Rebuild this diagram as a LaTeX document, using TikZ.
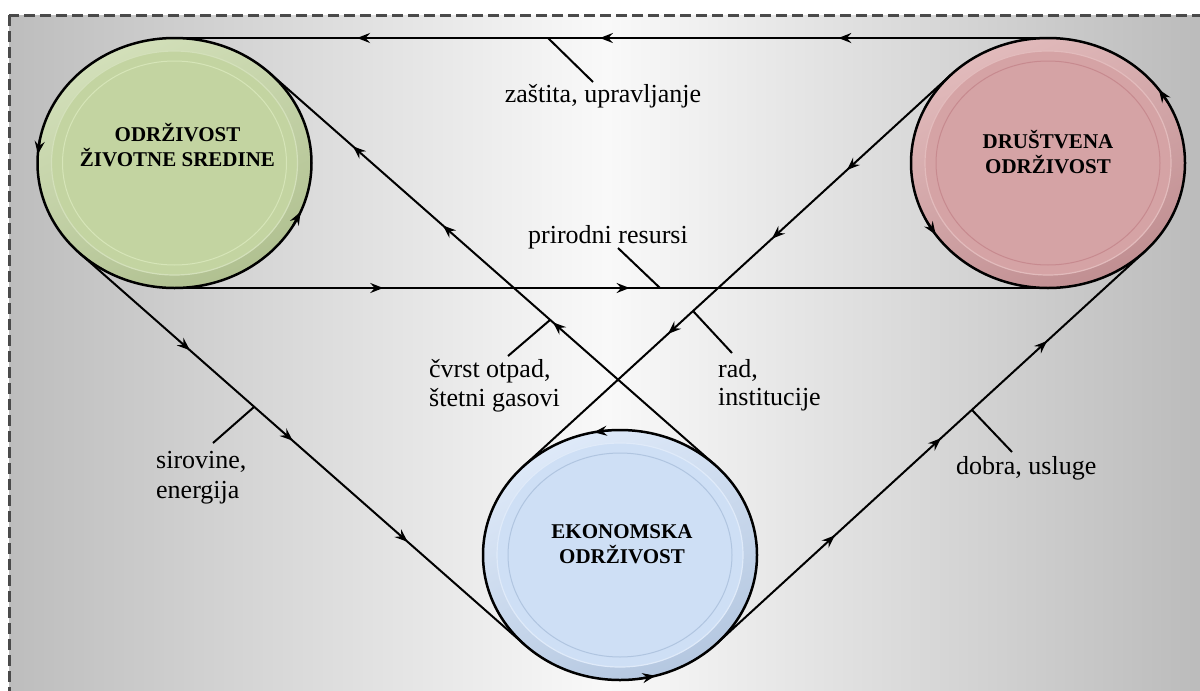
\documentclass[tikz,border=0pt]{standalone}
\usepackage{fontspec}
\setmainfont{Liberation Serif}
\usetikzlibrary{arrows.meta,decorations.markings,shapes.geometric,calc}

\definecolor{framegray}{HTML}{4A4A4A}
\definecolor{bgedge}{HTML}{BDBDBD}
\definecolor{bgedgeR}{HTML}{BBBBBB}
\definecolor{bgmid}{HTML}{F9F9F9}
\definecolor{envbase}{HTML}{C3D4A1}
\definecolor{envlight}{HTML}{D3E0BA}
\definecolor{envdark}{HTML}{B0C090}
\definecolor{envring}{HTML}{D6E5B8}
\definecolor{socbase}{HTML}{D5A3A5}
\definecolor{soclight}{HTML}{E2BBBC}
\definecolor{socdark}{HTML}{C08E91}
\definecolor{socring}{HTML}{C78A8F}
\definecolor{ecobase}{HTML}{CEDFF5}
\definecolor{ecolight}{HTML}{DFEAF9}
\definecolor{ecodark}{HTML}{B4C7E0}
\definecolor{ecoring}{HTML}{B0C5E0}

\tikzset{flowtip/.tip={Stealth[length=13pt,width=10pt,inset=4.5pt]}}

\begin{document}
\begin{tikzpicture}[x=1pt,y=-1pt,
  flowline/.style={line width=2pt, black},
  leader/.style={line width=2pt, black},
  mk/.style={postaction={decorate,decoration={markings,mark=at position #1 with {\arrow{flowtip}}}}},
  rimtip/.style={line width=2pt, black, -flowtip},
  disctitle/.style={inner sep=0pt, anchor=base, font=\fontsize{21}{25}\selectfont\bfseries},
  lbl/.style={inner sep=0pt, anchor=base west, font=\fontsize{26}{30}\selectfont},
  disc/.style n args={4}{ellipse, minimum width=274pt, minimum height=250pt, inner sep=0pt,
     draw=black, line width=2.5pt, fill=#1,
     path picture={
       \coordinate (pc) at (path picture bounding box.center);
       \shade[top color=#2, bottom color=#3, shading angle=25] (pc) ellipse [x radius=140, y radius=128];
       \fill[#1] (pc) ellipse [x radius=123, y radius=112];
       \draw[#2, line width=1.2pt] (pc) ellipse [x radius=123, y radius=112];
       \draw[#4, line width=1pt] (pc) ellipse [x radius=112, y radius=102];
     }},
]
\useasboundingbox (0,0) rectangle (1200,691);

% framed background with a horizontal gradient
\begin{scope}
  \clip (0,0) rectangle (1200,691);
  \shade[left color=bgedge, right color=bgedgeR, middle color=bgmid] (9,15) rectangle (1204,697);
  \draw[framegray, line width=3pt, dash pattern=on 11pt off 5pt] (9,15) rectangle (1204,697);
\end{scope}

% the three sustainability discs
\node[disc={envbase}{envlight}{envdark}{envring}] (env) at (174.5,163) {};
\node[disc={socbase}{soclight}{socdark}{socring}] (soc) at (1048,163) {};
\node[disc={ecobase}{ecolight}{ecodark}{ecoring}] (eco) at (620,555) {};

\node[disctitle] (envA) at (177.5,141) {ODRŽIVOST};
\node[disctitle] (envB) at (177.5,166) {ŽIVOTNE SREDINE};
\node[disctitle] (socA) at (1048,148) {DRUŠTVENA};
\node[disctitle] (socB) at (1048,173) {ODRŽIVOST};
\node[disctitle] (ecoA) at (622,538) {EKONOMSKA};
\node[disctitle] (ecoB) at (622,563) {ODRŽIVOST};

% tangent points of the flow lines
\coordinate (envTop) at (174.5,38);
\coordinate (socTop) at (1048,38);
\coordinate (envBot) at (174.5,288);
\coordinate (socBot) at (1048,288);
\coordinate (envLL) at (79.4,253);
\coordinate (ecoLL) at (524.9,645);
\coordinate (envUR) at (269.6,73);
\coordinate (ecoUR) at (715.1,465);
\coordinate (socUL) at (950.9,74.8);
\coordinate (ecoUL) at (522.9,466.8);
\coordinate (socLR) at (1145.1,251.2);
\coordinate (ecoLR) at (717.1,643.2);

% flows between the discs
\draw[flowline, mk=0.24, mk=0.513, mk=0.791] (socTop) -- (envTop);
\draw[flowline, mk=0.239, mk=0.521] (envBot) -- (socBot);
\draw[flowline, mk=0.248, mk=0.479, mk=0.737] (envLL) -- (ecoLL);
\draw[flowline, mk=0.364, mk=0.611, mk=0.813] (ecoUR) -- (envUR);
\draw[flowline, mk=0.243, mk=0.418, mk=0.661] (socUL) -- (ecoUL);
\draw[flowline, mk=0.275, mk=0.523, mk=0.771] (ecoLR) -- (socLR);

% circulation marks on the disc rims
\draw[rimtip] ($(env.center)+(191:137 and 125)$) -- ($(env.center)+(184:137 and 125)$);
\draw[rimtip] ($(env.center)+(30:137 and 125)$) -- ($(env.center)+(23:137 and 125)$);
\draw[rimtip] ($(soc.center)+(331:137 and 125)$) -- ($(soc.center)+(324:137 and 125)$);
\draw[rimtip] ($(soc.center)+(152:137 and 125)$) -- ($(soc.center)+(145:137 and 125)$);
\draw[rimtip] ($(eco.center)+(266:137 and 125)$) -- ($(eco.center)+(259:137 and 125)$);
\draw[rimtip] ($(eco.center)+(82:137 and 125)$) -- ($(eco.center)+(75:137 and 125)$);

% label leaders
\coordinate (zasA) at (548,38);   \coordinate (zasB) at (593,82);
\coordinate (priA) at (660,288);  \coordinate (priB) at (618,248);
\coordinate (cvrA) at (550,320);  \coordinate (cvrB) at (508,356);
\coordinate (radA) at (693,311);  \coordinate (radB) at (732,353);
\coordinate (sirA) at (254,407);  \coordinate (sirB) at (213,443);
\coordinate (dobA) at (972,410);  \coordinate (dobB) at (1012,452);
\draw[leader] (zasA) -- (zasB);
\draw[leader] (priA) -- (priB);
\draw[leader] (cvrA) -- (cvrB);
\draw[leader] (radA) -- (radB);
\draw[leader] (sirA) -- (sirB);
\draw[leader] (dobA) -- (dobB);

% flow labels
\node[lbl, anchor=base] (zas) at (603,102) {zaštita, upravljanje};
\node[lbl] (pri) at (528,243) {prirodni resursi};
\node[lbl] (cvr1) at (429,377) {čvrst otpad,};
\node[lbl] (cvr2) at (429,406) {štetni gasovi};
\node[lbl] (rad1) at (718,377) {rad,};
\node[lbl] (rad2) at (718,405) {institucije};
\node[lbl] (sir1) at (156,468) {sirovine,};
\node[lbl] (sir2) at (156,498) {energija};
\node[lbl] (dob) at (956,474) {dobra, usluge};
\end{tikzpicture}
\end{document}
